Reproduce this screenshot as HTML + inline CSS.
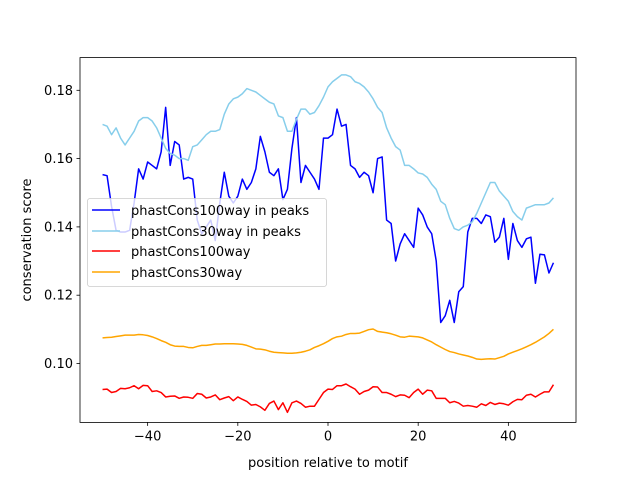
<!DOCTYPE html>
<html><head><meta charset="utf-8"><style>
body{margin:0;background:#fff;}
svg text{font-family:"DejaVu Sans","Liberation Sans",sans-serif;fill:#000;}
</style></head><body>
<svg id="chart" width="640" height="480" xmlns="http://www.w3.org/2000/svg">
<rect width="640" height="480" fill="#fff"/>
<g id="lines"></g>
<g id="axes"></g>
</svg>
<script>
const positions = [];
for (let i = -50; i <= 50; i++) positions.push(i);
const xTicks = [-40, -20, 0, 20, 40];
const yTicks = [0.10, 0.12, 0.14, 0.16, 0.18];
const yTickLabels = ["0.10", "0.12", "0.14", "0.16", "0.18"];
const seriesNames = ["phastCons100way in peaks", "phastCons30way in peaks", "phastCons100way", "phastCons30way"];
const seriesColors = ["#0000ff", "#87ceeb", "#ff0000", "#ffa500"];
const peaks100 = [.1553,.155,.146,.139,.1385,.1385,.139,.147,.157,.154,.159,.158,.157,.162,.175,.158,.165,.164,.154,.1545,.154,.142,.138,.14,.142,.136,.147,.156,.149,.147,.149,.154,.151,.153,.157,.1665,.162,.156,.155,.157,.148,.151,.163,.172,.153,.158,.156,.154,.151,.166,.166,.167,.1745,.1695,.170,.158,.157,.1545,.156,.155,.150,.160,.1605,.142,.141,.130,.135,.138,.136,.134,.1455,.1435,.140,.138,.130,.112,.114,.1185,.112,.121,.1225,.1385,.1425,.1425,.141,.1435,.143,.1355,.137,.1425,.1305,.141,.136,.134,.1365,.137,.1235,.132,.1318,.1265,.1295];
const peaks30 = [.170,.1695,.167,.169,.166,.164,.166,.168,.171,.172,.172,.171,.169,.166,.163,.1615,.161,.160,.160,.1595,.1635,.164,.1655,.167,.168,.168,.1685,.173,.176,.1775,.178,.179,.1805,.180,.1795,.1785,.1775,.1765,.176,.1725,.172,.168,.168,.1715,.1745,.1745,.173,.1735,.1755,.178,.181,.1825,.1835,.1845,.1845,.184,.1825,.182,.181,.1795,.1775,.175,.1735,.169,.166,.1635,.1625,.158,.158,.157,.1558,.1555,.1545,.1525,.151,.1475,.1465,.1425,.1395,.139,.140,.1405,.1415,.144,.147,.150,.153,.153,.1505,.149,.1475,.1445,.143,.142,.1455,.146,.1465,.1465,.1465,.147,.1485];
const all100 = [.0924,.0925,.0915,.0918,.0927,.0926,.0929,.0935,.0926,.0936,.0935,.0918,.092,.0915,.0902,.0904,.0905,.0898,.0902,.0901,.0898,.0912,.091,.0899,.0902,.0908,.0894,.0899,.0903,.0891,.0902,.0895,.0889,.0878,.088,.0873,.0863,.0883,.089,.0865,.0885,.0857,.0885,.089,.0883,.0872,.0875,.0875,.0895,.0915,.0925,.0924,.0935,.0935,.094,.0932,.0925,.091,.0918,.0922,.0932,.0931,.0915,.0915,.091,.0903,.0908,.0907,.09,.0915,.0925,.091,.0922,.092,.0898,.0898,.0898,.0885,.0889,.0884,.0875,.0877,.0875,.0872,.0882,.0877,.0886,.088,.0884,.0882,.0878,.0888,.0895,.0894,.0907,.091,.0902,.091,.0917,.0917,.0938];
const all30 = [.1075,.1076,.1077,.1079,.1081,.1083,.1083,.1083,.1085,.1084,.1082,.1078,.1073,.1067,.1062,.1055,.1051,.105,.105,.1047,.1046,.105,.1053,.1053,.1055,.1057,.1057,.1058,.1058,.1058,.1057,.1056,.1053,.1048,.1043,.1042,.104,.1036,.1033,.1032,.1031,.103,.103,.1031,.1033,.1036,.104,.1047,.1052,.1058,.1065,.1073,.1078,.108,.1085,.1088,.1088,.1089,.1094,.1099,.1101,.1094,.1092,.109,.1087,.1083,.1078,.1077,.108,.1079,.1078,.1075,.1069,.1063,.1055,.1048,.1041,.1035,.1032,.1028,.1025,.1022,.1018,.1013,.1012,.1013,.1014,.1013,.1017,.1021,.1028,.1033,.1038,.1043,.1049,.1055,.1062,.107,.1078,.1088,.110];
const seriesData = [peaks100, peaks30, all100, all30];

const L = 80, R = 576, T = 57.6, B = 422.4;
function xScale(v){ return L + (v + 55) / 110 * (R - L); }
function yScale(v){ return 90.3 + (0.18 - v) * 3415; }
const NS = "http://www.w3.org/2000/svg";
const lines = document.getElementById('lines');
const axes = document.getElementById('axes');
function mk(tag, attrs, parent){
  const e = document.createElementNS(NS, tag);
  for (const k in attrs) e.setAttribute(k, attrs[k]);
  parent.appendChild(e); return e;
}
const lineKeys = ['line-phastcons100way-peaks','line-phastcons30way-peaks','line-phastcons100way','line-phastcons30way'];
seriesData.forEach((arr, si) => {
  const d = arr.map((v, i) => (i ? 'L' : 'M') + xScale(positions[i]).toFixed(2) + ',' + yScale(v).toFixed(2)).join(' ');
  const p = mk('path', {d: d, fill: 'none', stroke: seriesColors[si], 'stroke-width': 1.5, 'stroke-linejoin': 'round'}, lines);
  
  
});
const frame = mk('rect', {x: L, y: T, width: R - L, height: B - T, fill: 'none', stroke: '#000', 'stroke-width': 0.8}, axes);


xTicks.forEach(t => {
  const x = xScale(t);
  const tk = mk('line', {x1: x, x2: x, y1: B, y2: B + 3.5, stroke: '#000', 'stroke-width': 0.8}, axes);
  
  
  const tx = mk('text', {x: x, y: B + 18, 'font-size': 13, 'text-anchor': 'middle'}, axes);
  tx.textContent = (t < 0 ? '\u2212' + Math.abs(t) : String(t));
  
  
});
yTicks.forEach((t, i) => {
  const y = yScale(t);
  const tk = mk('line', {x1: L - 3.5, x2: L, y1: y, y2: y, stroke: '#000', 'stroke-width': 0.8}, axes);
  
  
  const tx = mk('text', {x: L - 7, y: y + 4.5, 'font-size': 13, 'text-anchor': 'end'}, axes);
  tx.textContent = yTickLabels[i];
  
  
});
const xl = mk('text', {x: 328, y: 467, 'font-size': 13, 'text-anchor': 'middle'}, axes);
xl.textContent = 'position relative to motif';


const yl = mk('text', {x: 0, y: 0, 'font-size': 13, 'text-anchor': 'middle', transform: 'translate(31,240) rotate(-90)'}, axes);
yl.textContent = 'conservation score';


const lg = mk('g', {}, axes);


const box = mk('rect', {x: 87.5, y: 198.5, width: 239, height: 88, rx: 2.5, fill: 'rgba(255,255,255,0.8)', stroke: '#cccccc', 'stroke-width': 0.8}, lg);


const ly = [210, 231, 251, 272];
seriesNames.forEach((n, i) => {
  const ln = mk('line', {x1: 92, x2: 120, y1: ly[i], y2: ly[i], stroke: seriesColors[i], 'stroke-width': 1.5}, lg);
  
  
  const tx = mk('text', {x: 131, y: ly[i] + 5, 'font-size': 13}, lg);
  tx.textContent = n;
  
  
});
</script>
</body></html>
